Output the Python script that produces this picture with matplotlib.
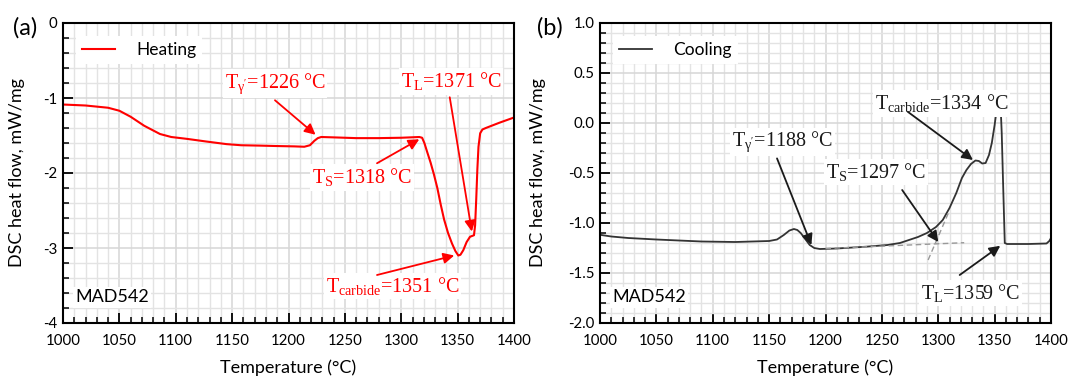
import matplotlib
matplotlib.use("Agg")
import matplotlib.pyplot as plt
from matplotlib.ticker import MultipleLocator, FormatStrFormatter

# ---------------- data ----------------
heat_T = [1000, 1020, 1040, 1050, 1060, 1072, 1086, 1096, 1110, 1127, 1145, 1158, 1175, 1188,
          1205, 1214, 1219, 1223, 1226, 1229, 1240, 1260, 1280, 1300, 1316, 1318.5, 1320.5,
          1323, 1326, 1329, 1332, 1335, 1338, 1341.5, 1345, 1348, 1350.6, 1352.5, 1355, 1358,
          1361, 1364.5, 1365.5, 1366.5, 1367.5, 1368.5, 1370, 1372, 1375, 1387, 1400]
heat_dsc = [-1.087, -1.10, -1.13, -1.17, -1.25, -1.37, -1.48, -1.52, -1.545, -1.58, -1.615,
            -1.63, -1.635, -1.64, -1.645, -1.65, -1.63, -1.57, -1.535, -1.52, -1.525, -1.535,
            -1.535, -1.53, -1.52, -1.53, -1.60, -1.72, -1.86, -2.02, -2.20, -2.42, -2.62,
            -2.80, -2.94, -3.04, -3.10, -3.09, -3.03, -2.92, -2.85, -2.83, -2.70, -2.35,
            -1.95, -1.65, -1.47, -1.42, -1.40, -1.33, -1.26]

cool_T = [1000, 1010, 1025, 1050, 1090, 1120, 1150, 1157, 1163, 1168, 1172, 1175, 1178, 1182,
          1186, 1190, 1195, 1210, 1236, 1255, 1266, 1282, 1290, 1298, 1304, 1310, 1316, 1321,
          1325, 1329, 1333, 1336, 1339, 1342, 1345, 1347.5, 1350, 1352, 1353.8, 1355, 1356.3,
          1357.5, 1359, 1361, 1380, 1396, 1398.5, 1400]
cool_dsc = [-1.118, -1.135, -1.15, -1.165, -1.185, -1.19, -1.18, -1.165, -1.12, -1.075, -1.06,
            -1.07, -1.10, -1.16, -1.22, -1.25, -1.26, -1.255, -1.237, -1.22, -1.20, -1.14,
            -1.10, -1.04, -0.97, -0.85, -0.70, -0.55, -0.47, -0.41, -0.375, -0.38, -0.405,
            -0.40, -0.32, -0.20, -0.02, 0.15, 0.31, 0.25, -0.10, -0.60, -1.20, -1.21, -1.21,
            -1.205, -1.18, -1.15]

# tangent construction for T_S (cooling)
base_T = [1200, 1323]
base_dsc = [-1.255, -1.197]
steep_T = [1291, 1309]
steep_dsc = [-1.37, -0.90]

# annotations: (label, text x, text y, arrow start x, y, arrow tip x, y)
heat_ann = [
    (r"T$_{\mathrm{\gamma'}}$=1226 °C", 1188, -0.81, 1188, -1.03, 1224, -1.49),
    (r"T$_{\mathrm{L}}$=1371 °C", 1344, -0.78, 1343, -0.99, 1362.6, -2.78),
    (r"T$_{\mathrm{S}}$=1318 °C", 1265, -2.06, 1278.5, -1.87, 1316, -1.55),
    (r"T$_{\mathrm{carbide}}$=1351 °C", 1292, -3.51, 1278.5, -3.36, 1347, -3.10),
]
cool_ann = [
    (r"T$_{\mathrm{\gamma'}}$=1188 °C", 1161.6, -0.19, 1157, -0.354, 1187.5, -1.22),
    (r"T$_{\mathrm{carbide}}$=1334 °C", 1303, 0.195, 1273, 0.112, 1330.8, -0.37),
    (r"T$_{\mathrm{S}}$=1297 °C", 1245, -0.49, 1268, -0.67, 1300, -1.19),
    (r"T$_{\mathrm{L}}$=1359 °C", 1329, -1.70, 1319, -1.52, 1355, -1.228),
]

# ---------------- style ----------------
plt.rcParams['font.family'] = ['Lato', 'DejaVu Sans']
plt.rcParams['axes.unicode_minus'] = False
plt.rcParams['mathtext.fontset'] = 'custom'
plt.rcParams['mathtext.rm'] = 'Liberation Serif'
plt.rcParams['mathtext.it'] = 'Liberation Serif:italic'
plt.rcParams['mathtext.default'] = 'rm'

fig = plt.figure(figsize=(10.69, 3.8), dpi=100)
axa = fig.add_axes([63/1069, 57/380, 451/1069, 300/380])
axb = fig.add_axes([600/1069, 57/380, 451/1069, 300/380])

serif = 'Liberation Serif'


def style_axes(ax, ymin, ymax, ymaj, ymin_step, fmt):
    ax.set_xlim(1000, 1400)
    ax.set_ylim(ymin, ymax)
    ax.xaxis.set_major_locator(MultipleLocator(50))
    ax.xaxis.set_minor_locator(MultipleLocator(10))
    ax.yaxis.set_major_locator(MultipleLocator(ymaj))
    ax.yaxis.set_minor_locator(MultipleLocator(ymin_step))
    ax.yaxis.set_major_formatter(FormatStrFormatter(fmt))
    ax.set_axisbelow(True)
    ax.grid(which='minor', color='#e3e3e3', lw=1.0)
    ax.grid(which='major', color='#d6d6d6', lw=1.1)
    ax.tick_params(which='major', direction='in', length=7, width=1.3, labelsize=10.8, pad=4)
    ax.tick_params(axis='x', which='major', pad=8)
    ax.tick_params(which='minor', direction='in', length=4, width=1.1)
    for s in ax.spines.values():
        s.set_linewidth(1.5)
    ax.set_xlabel('Temperature (°C)', fontsize=13, labelpad=8)
    ax.set_ylabel('DSC heat flow, mW/mg', fontsize=13)


style_axes(axa, -4, 0, 1, 0.2, '%d')
style_axes(axb, -2, 1, 0.5, 0.1, '%.1f')
axa.yaxis.set_label_coords(-0.085, 0.5)
axb.yaxis.set_label_coords(-0.12, 0.5)

axa.plot(heat_T, heat_dsc, color='#ff0000', lw=1.5, label='Heating')
axb.plot(cool_T, cool_dsc, color='#333333', lw=1.3, label='Cooling')
axb.plot(base_T, base_dsc, color='#999999', lw=1.0, ls=(0, (4, 2.5)))
axb.plot(steep_T, steep_dsc, color='#999999', lw=1.0, ls=(0, (4, 2.5)))

box = dict(facecolor='white', edgecolor='none', pad=1.5)


def annotate(ax, anns, color):
    for lab, tx, ty, sx, sy, ex, ey in anns:
        ax.text(tx, ty, lab, color=color, fontsize=14.5, family=serif,
                ha='center', va='center', bbox=box, zorder=4)
        ax.annotate('', xy=(ex, ey), xytext=(sx, sy),
                    arrowprops=dict(arrowstyle='-|>', color=color, lw=1.3,
                                    mutation_scale=16, shrinkA=0, shrinkB=0),
                    zorder=5)


annotate(axa, heat_ann, '#ff0000')
annotate(axb, cool_ann, '#1a1a1a')

for ax in (axa, axb):
    leg = ax.legend(loc='upper left', bbox_to_anchor=(0.01, 0.985), fontsize=12.5,
                    frameon=True, fancybox=False, edgecolor='none', framealpha=1,
                    handlelength=1.9, handletextpad=1.2, borderpad=0.35)
    ax.text(1011, ax.get_ylim()[0] + 0.085 * (ax.get_ylim()[1] - ax.get_ylim()[0]),
            'MAD542', fontsize=13, ha='left', va='center', bbox=box, zorder=4)

fig.text(25/1069, 1 - 28/380, '(a)', fontsize=17, ha='center', va='center')
fig.text(550/1069, 1 - 28/380, '(b)', fontsize=17, ha='center', va='center')

fig.savefig('out.png', dpi=100)
